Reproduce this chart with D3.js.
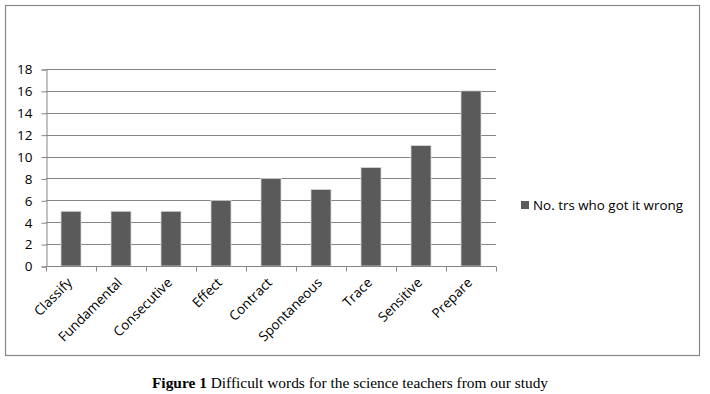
<!DOCTYPE html>
<html>
<head>
<meta charset="utf-8">
<script src="https://cdn.jsdelivr.net/npm/d3@7"></script>
<style>
  body { margin: 0; background: #fff; }
  svg text { font-family: "Open Sans", "DejaVu Sans", sans-serif; }
</style>
</head>
<body>
<div id="chart"></div>
<script>
// data
const words = ["Classify", "Fundamental", "Consecutive", "Effect", "Contract",
               "Spontaneous", "Trace", "Sensitive", "Prepare"];
const wrongCounts = [5, 5, 5, 6, 8, 7, 9, 11, 16];
const yTicks = [0, 2, 4, 6, 8, 10, 12, 14, 16, 18];
const seriesName = "No. trs who got it wrong";

const width = 710, height = 394;
const margin = {top: 69, right: 214, bottom: 128, left: 46};

const svg = d3.select("#chart").append("svg")
    .attr("width", width)
    .attr("height", height);

// chart frame
svg.append("rect")
    .attr("x", 5.5).attr("y", 5.5)
    .attr("width", 694).attr("height", 350)
    .attr("fill", "none")
    .attr("stroke", "#888")
    .attr("stroke-width", 1.2);

let xScale = d3.scaleBand()
    .domain(words)
    .range([margin.left, width - margin.right]);

let yScale = d3.scaleLinear()
    .domain([0, 18])
    .range([height - margin.bottom, margin.top]);

// gridlines
svg.append("g").selectAll("line").data(yTicks.slice(1)).enter().append("line")
    .attr("x1", margin.left).attr("x2", width - margin.right)
    .attr("y1", d => Math.round(yScale(d)) + 0.5)
    .attr("y2", d => Math.round(yScale(d)) + 0.5)
    .attr("stroke", "#868686");

// y axis
let yAxis = svg.append("g")
    .attr("transform", "translate(" + (margin.left + 0.5) + ",0.5)")
    .call(d3.axisLeft(yScale).tickValues(yTicks).tickSize(5).tickPadding(9));
yAxis.select(".domain").attr("stroke", "#868686");
yAxis.selectAll(".tick line").attr("stroke", "#868686");
yAxis.selectAll("text").attr("font-size", 13.5).attr("fill", "#000");

// bars
let barW = xScale.bandwidth() * 0.4;
svg.append("g").selectAll("rect").data(wrongCounts).enter().append("rect")
    .attr("x", (d, i) => xScale(words[i]) + (xScale.bandwidth() - barW) / 2)
    .attr("y", d => yScale(d))
    .attr("width", barW)
    .attr("height", d => yScale(0) - yScale(d))
    .attr("fill", "#5a5a5a")
    .attr("stroke", "#d8d8d8")
    .attr("stroke-width", 0.8);

// x axis
let xAxis = svg.append("g")
    .attr("transform", "translate(0," + (Math.round(yScale(0)) + 0.5) + ")");
xAxis.append("line")
    .attr("x1", margin.left).attr("x2", width - margin.right)
    .attr("stroke", "#868686");
let edges = words.map(w => xScale(w)).concat([width - margin.right]);
xAxis.selectAll("line.tick").data(edges).enter().append("line")
    .attr("class", "tick")
    .attr("x1", d => Math.round(d) + 0.5).attr("x2", d => Math.round(d) + 0.5)
    .attr("y1", 0).attr("y2", 5)
    .attr("stroke", "#868686");
xAxis.selectAll("text").data(words).enter().append("text")
    .attr("text-anchor", "end")
    .attr("font-size", 13.5)
    .attr("fill", "#000")
    .attr("transform", d => "translate(" + (xScale(d) + xScale.bandwidth() / 2 + 2) + ",17) rotate(-45)")
    .text(d => d);

// legend
svg.append("rect")
    .attr("x", 521).attr("y", 201)
    .attr("width", 8).attr("height", 8)
    .attr("fill", "#5a5a5a");
svg.append("text")
    .attr("x", 533).attr("y", 210)
    .attr("font-size", 13.4)
    .attr("fill", "#000")
    .text(seriesName);

// caption
let caption = svg.append("text")
    .attr("x", 350).attr("y", 388)
    .attr("text-anchor", "middle")
    .attr("font-size", 15.4)
    .attr("fill", "#000")
    .style("font-family", "'Liberation Serif', 'DejaVu Serif', serif");
caption.append("tspan").attr("font-weight", "bold").text("Figure 1");
caption.append("tspan").text(" Difficult words for the science teachers from our study");
</script>
</body>
</html>
